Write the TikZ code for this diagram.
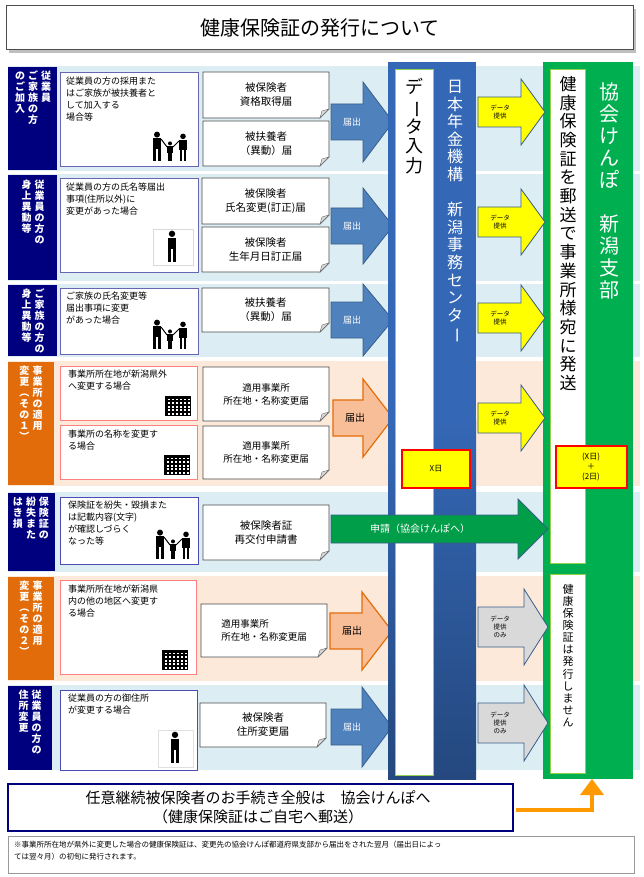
\documentclass[tikz,border=0pt]{standalone}
\usepackage{fontspec}
\setmainfont{Noto Sans CJK JP}
\usetikzlibrary{shapes.geometric}
\definecolor{navy}{HTML}{00007F}
\definecolor{orng}{HTML}{E36C0A}
\definecolor{bandb}{HTML}{DCEEF4}
\definecolor{bando}{HTML}{FCE9DA}
\definecolor{arrb}{HTML}{4F81BD}
\definecolor{arrbd}{HTML}{385D8A}
\definecolor{arro}{HTML}{F8BE98}
\definecolor{colb}{HTML}{3467B5}
\definecolor{gr}{HTML}{00B050}
\definecolor{lgr}{HTML}{92D050}
\definecolor{ylw}{HTML}{FFFF00}
\def\vt#1{\vtop{\hsize=1.05em\baselineskip=1.1em\lineskip=0pt\lineskiplimit=-100pt\vtaux#1\relax}}
\def\vtaux#1{\ifx#1\relax\else\vcell{#1}\expandafter\vtaux\fi}
\def\vcell#1{\hbox to 1.05em{\hss\ifx#1ー\rotatebox[origin=c]{-90}{ー}\else\ifx#1（\rotatebox[origin=c]{-90}{（}\else\ifx#1）\rotatebox[origin=c]{-90}{）}\else #1\fi\fi\fi\hss}}
\newcommand\vgap{\kern2.5pt}
\tikzset{
 lab/.style={draw=none,inner sep=0pt,anchor=north,text=white,font=\fontsize{10}{10}\selectfont\bfseries},
 casebox/.style={draw=#1,fill=white,line width=0.8pt},
 casetxt/.style={anchor=north west,align=left,inner sep=0pt,font=\fontsize{9}{12}\selectfont},
 form/.style={align=center,font=\fontsize{10.5}{14}\selectfont,inner sep=0pt},
 yel/.style={fill=ylw,draw=red,line width=1.5pt},
}
\newcommand\formbox[5]{%
 \draw[fill=white,draw=black!70,line width=0.7pt] (#1,#2) -- (#3,#2) -- (#3,{#4-9}) -- ({#3-9},#4) -- (#1,#4) -- cycle;
 \draw[fill=black!15,draw=black!60] (#3,{#4-9}) -- ({#3-9},#4) -- ({#3-7},{#4-7}) -- cycle;
 \coordinate (#5) at ({(#1+#3)/2},{(#2+#4)/2});}
\newcommand\barrow[7]{%
 \draw[#7] (#1,{#3-#4}) -- ({#2-#6},{#3-#4}) -- ({#2-#6},{#3-#5}) -- (#2,#3) -- ({#2-#6},{#3+#5}) -- ({#2-#6},{#3+#4}) -- (#1,{#3+#4}) -- cycle;}
\newcommand\person[3]{%
 \fill (#1,{#2-#3*0.88}) circle ({#3*0.1});
 \fill ({#1-#3*0.14},{#2-#3*0.76}) rectangle ({#1+#3*0.14},{#2-#3*0.4});
 \fill ({#1-#3*0.12},{#2-#3*0.42}) rectangle ({#1-#3*0.02},#2);
 \fill ({#1+#3*0.02},{#2-#3*0.42}) rectangle ({#1+#3*0.12},#2);}
\newcommand\family[2]{%
 \person{#1-13}{#2}{30}\person{#1}{#2}{20}\person{#1+13}{#2}{28}
 \draw[line width=1pt] ({#1-9},{#2-22}) -- ({#1-3},{#2-14}); \draw[line width=1pt] ({#1+9},{#2-20}) -- ({#1+3},{#2-14});}
\newcommand\building[2]{%
 \fill (#1,#2) rectangle ({#1+26},{#2+20});
 \foreach \i in {0,...,5}{\foreach \j in {0,...,4}{\fill[white] ({#1+2.5+\i*4},{#2+2.5+\j*3.6}) rectangle ({#1+4.5+\i*4},{#2+4.3+\j*3.6});}}}
\begin{document}
\begin{tikzpicture}[x=1pt,y=-1pt]
\useasboundingbox (0,0) rectangle (643,877);
\fill[white] (0,0) rectangle (643,877);
% title
\fill[black!25] (9,9) rectangle (636,53);
\draw[fill=white,draw=black!70,line width=1pt] (6,6) rectangle (633,50);
\node[font=\fontsize{20}{20}\selectfont] (title) at (320,28) {健康保険証の発行について};
% bands
\fill[bandb] (8,66) rectangle (640,171);
\fill[bandb] (8,174) rectangle (640,281);
\fill[bandb] (8,284) rectangle (640,357);
\fill[bando] (8,361) rectangle (640,486);
\fill[bandb] (8,492) rectangle (640,572);
\fill[bando] (8,576) rectangle (640,681);
\fill[bandb] (8,685) rectangle (640,770);
% label boxes
\fill[navy] (8,67) rectangle (57,170);
\fill[navy] (8,175) rectangle (57,280);
\fill[navy] (8,285) rectangle (57,356);
\fill[orng] (8,362) rectangle (54,485);
\fill[navy] (8,493) rectangle (55,571);
\fill[orng] (8,577) rectangle (54,680);
\fill[navy] (8,686) rectangle (52,770);
\node[lab] (l1) at (33,71) {\hbox{\vt{のご加入}\vgap\vt{ご家族の方}\vgap\vt{従業員}}};
\node[lab] (l2) at (33,180) {\hbox{\vt{身上異動等}\vgap\vt{従業員の方の}}};
\node[lab] (l3) at (33,289) {\hbox{\vt{身上異動等}\vgap\vt{ご家族の方の}}};
\node[lab] (l4) at (31,366) {\hbox{\vt{変更（その１）}\vgap\vt{事業所の適用}}};
\node[lab] (l5) at (31,497) {\hbox{\vt{はき損}\vgap\vt{紛失また}\vgap\vt{保険証の}}};
\node[lab] (l6) at (31,581) {\hbox{\vt{変更（その２）}\vgap\vt{事業所の適用}}};
\node[lab] (l7) at (30,690) {\hbox{\vt{住所変更}\vgap\vt{従業員の方の}}};
% case boxes
\draw[casebox=blue!50!black!60] (60,72) rectangle (198,166);
\node[casetxt] (c1) at (66,77) {従業員の方の採用また\\はご家族が被扶養者と\\して加入する\\場合等};
\family{170}{161}
\draw[casebox=blue!50!black!60] (60,178) rectangle (198,272);
\node[casetxt] (c2) at (66,183) {従業員の方の氏名等届出\\事項(住所以外)に\\変更があった場合};
\draw[black!15] (153,229) rectangle (193,265);
\person{172}{262}{32}
\draw[casebox=blue!50!black!60] (60,288) rectangle (198,354);
\node[casetxt] (c3) at (66,292) {ご家族の氏名変更等\\届出事項に変更\\があった場合};
\family{170}{349}
\draw[casebox=red!50] (60,366) rectangle (197,420);
\node[casetxt] (c4) at (68,370) {事業所所在地が新潟県外\\へ変更する場合};
\building{165}{396}
\draw[casebox=red!50] (60,425) rectangle (197,479);
\node[casetxt] (c5) at (68,430) {事業所の名称を変更す\\る場合};
\building{164}{455}
\draw[casebox=blue!40!gray] (60,497) rectangle (198,564);
\node[casetxt] (c6) at (68,501) {保険証を紛失・毀損また\\は記載内容(文字)\\が確認しづらく\\なった等};
\family{173}{559}
\draw[casebox=red!50] (60,580) rectangle (196,674);
\node[casetxt] (c7) at (68,585) {事業所所在地が新潟県\\内の他の地区へ変更す\\る場合};
\building{162}{650}
\draw[casebox=blue!40!gray] (60,690) rectangle (197,770);
\draw[black!12] (158,730) rectangle (193,767);
\node[casetxt] (c8) at (68,694) {従業員の方の御住所\\が変更する場合};
\person{175}{763}{32}
% forms
\formbox{203}{72}{329}{118}{f1}\node[form] at (f1) {被保険者\\資格取得届};
\formbox{203}{121}{329}{166}{f2}\node[form] at (f2) {被扶養者\\（異動）届};
\formbox{202}{178}{329}{224}{f3}\node[form] at (f3) {被保険者\\氏名変更(訂正)届};
\formbox{202}{227}{329}{272}{f4}\node[form] at (f4) {被保険者\\生年月日訂正届};
\formbox{202}{288}{329}{332}{f5}\node[form] at (f5) {被扶養者\\（異動）届};
\formbox{203}{367}{329}{421}{f6}\node[form,font=\fontsize{9.5}{13}\selectfont] at (f6) {適用事業所\\所在地・名称変更届};
\formbox{203}{426}{329}{479}{f7}\node[form,font=\fontsize{9.5}{13}\selectfont] at (f7) {適用事業所\\所在地・名称変更届};
\formbox{203}{505}{329}{560}{f8}\node[form] at (f8) {被保険者証\\再交付申請書};
\formbox{201}{604}{327}{657}{f9}\node[form,font=\fontsize{9.5}{13}\selectfont,align=left] at (f9) {適用事業所\\所在地・名称変更届};
\formbox{200}{703}{326}{747}{f10}\node[form] at (f10) {被保険者\\住所変更届};
% 届出 arrows
\tikzset{ba/.style={fill=arrb,draw=arrbd,line width=0.8pt},oa/.style={fill=arro,draw=orng,line width=1.2pt}}
\barrow{331}{393}{122}{18}{40}{30}{ba}\node[white,font=\fontsize{9}{9}\selectfont] (t1) at (352,122) {届出};
\barrow{331}{393}{226}{18}{38}{30}{ba}\node[white,font=\fontsize{9}{9}\selectfont] (t2) at (352,226) {届出};
\barrow{331}{393}{320}{18}{36}{30}{ba}\node[white,font=\fontsize{9}{9}\selectfont] (t3) at (352,320) {届出};
\barrow{333}{393}{418}{18}{39}{30}{oa}\node[font=\fontsize{10}{10}\selectfont] (t4) at (355,418) {届出};
\barrow{330}{392}{631}{18}{39}{30}{oa}\node[font=\fontsize{10}{10}\selectfont] (t6) at (352,631) {届出};
\barrow{331}{392}{727}{18}{40}{30}{ba}\node[white,font=\fontsize{9}{9}\selectfont] (t7) at (352,727) {届出};
% columns
\fill[colb] (388,62) rectangle (476,779);
\shade[top color=colb,bottom color=colb!70!black] (388,420) rectangle (476,779);
\draw[fill=white,draw=lgr,line width=1pt] (395,70) rectangle (433,775);
\node[anchor=north,inner sep=0pt,font=\fontsize{18}{18}\selectfont] (di) at (414,78) {\vt{データ入力}};
\node[anchor=north,inner sep=0pt,white,font=\fontsize{16}{16}\selectfont] (nk) at (455,80) {\vt{日本年金機構　新潟事務センター}};
\fill[gr] (543,62) rectangle (633,779);
\draw[fill=white,draw=lgr,line width=1pt] (550,70) rectangle (585,563);
\draw[fill=white,draw=lgr,line width=1pt] (550,574) rectangle (585,773);
\node[anchor=north,inner sep=0pt,font=\fontsize{17}{17}\selectfont] (hs) at (568,76) {\vt{健康保険証を郵送で事業所様宛に発送}};
\node[anchor=north,inner sep=0pt,white,font=\fontsize{20}{20}\selectfont] (kk) at (609,82) {\vt{協会けんぽ　新潟支部}};
\node[anchor=north,inner sep=0pt,font=\fontsize{11}{11}\selectfont] (nh) at (568,584) {\vt{健康保険証は発行しません}};
% X日 boxes
\draw[yel] (402,450) rectangle (470,488);
\node[font=\fontsize{8}{8}\selectfont] (xd) at (436,469) {X日};
\draw[yel] (556,446) rectangle (627,488);
\node[align=center,font=\fontsize{8}{10}\selectfont] (xd2) at (591,467) {(X日)\\＋\\(2日)};
% data arrows
\tikzset{ya/.style={fill=ylw,draw=arrbd,line width=0.8pt},ga/.style={fill=black!15,draw=arrbd,line width=0.8pt}}
\barrow{478}{545}{112}{15}{33}{24}{ya}\node[align=center,font=\fontsize{6.5}{8}\selectfont] (d1) at (500,112) {データ\\提供};
\barrow{478}{545}{222}{15}{33}{24}{ya}\node[align=center,font=\fontsize{6.5}{8}\selectfont] (d2) at (500,222) {データ\\提供};
\barrow{478}{545}{318}{15}{33}{24}{ya}\node[align=center,font=\fontsize{6.5}{8}\selectfont] (d3) at (500,318) {データ\\提供};
\barrow{478}{545}{418}{15}{33}{24}{ya}\node[align=center,font=\fontsize{6.5}{8}\selectfont] (d4) at (500,418) {データ\\提供};
\barrow{478}{548}{627}{20}{38}{24}{ga}\node[align=center,font=\fontsize{6.5}{8}\selectfont] (d5) at (500,627) {データ\\提供\\のみ};
\barrow{478}{548}{723}{20}{38}{24}{ga}\node[align=center,font=\fontsize{6.5}{8}\selectfont] (d6) at (500,723) {データ\\提供\\のみ};
% green 申請 arrow
\barrow{331}{548}{529}{14}{30}{30}{fill=gr!90!black,draw=arrbd,line width=0.8pt}
\node[white,font=\fontsize{10}{10}\selectfont] (sh) at (420,529) {申請（協会けんぽへ）};
% bottom
\draw[fill=white,draw=navy,line width=1.5pt] (8,784) rectangle (513,831);
\node[align=center,font=\fontsize{15}{19}\selectfont] (bt) at (258,807) {任意継続被保険者のお手続き全般は　協会けんぽへ\\（健康保険証はご自宅へ郵送）};
\coordinate (turn) at (592,810);
\coordinate (tip) at (592,779);
\draw[draw=orange!80!yellow,line width=4pt] (516,810) -- (turn) -- (592,795);
\fill[orange!80!yellow] (580,795) -- (604,795) -- (tip) -- cycle;
\draw[fill=white,draw=black!40] (8,836) rectangle (634,873);
\node[anchor=north west,align=left,inner sep=0pt,font=\fontsize{7.5}{12}\selectfont] (note) at (14,841) {※事業所所在地が県外に変更した場合の健康保険証は、変更先の協会けんぽ都道府県支部から届出をされた翌月（届出日によっ\\ては翌々月）の初旬に発行されます。};
\end{tikzpicture}
\end{document}
